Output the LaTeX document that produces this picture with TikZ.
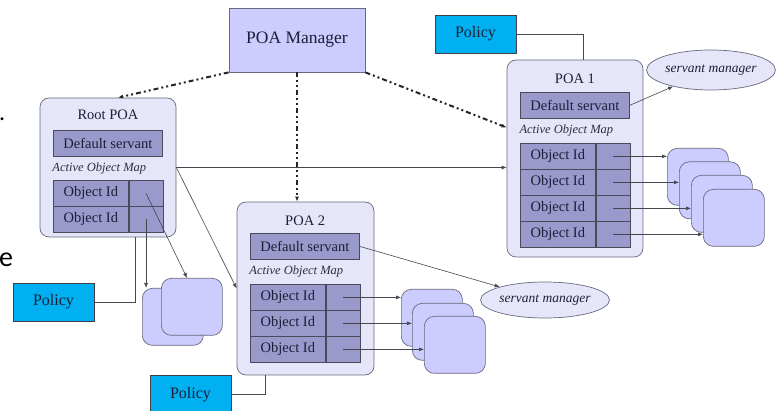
\documentclass[tikz,border=0pt]{standalone}
\usepackage{fontspec}
\setmainfont{Liberation Serif}
\newfontfamily\slidefont{Carlito}
\usetikzlibrary{positioning, calc, arrows.meta, shapes.geometric}

\definecolor{mgrfill}{RGB}{204,204,255}
\definecolor{poafill}{RGB}{230,230,250}
\definecolor{cellfill}{RGB}{153,153,204}
\definecolor{policyfill}{RGB}{0,176,240}
\definecolor{edgegray}{RGB}{105,105,125}
\definecolor{inktext}{RGB}{30,30,55}
\definecolor{wiregray}{RGB}{70,70,80}

\tikzset{
  poa/.style={draw=edgegray, fill=poafill, rounded corners=9pt, line width=0.7pt, inner sep=0pt},
  title/.style={inner sep=0pt, font=\fontsize{14.5}{16}\selectfont},
  dsbox/.style={draw=edgegray!70!black, fill=cellfill, line width=0.7pt, inner sep=0pt,
    minimum width=109pt, minimum height=26pt, anchor=north west},
  aom/.style={inner sep=0pt, font=\fontsize{12.5}{14}\itshape, text=inktext!85!gray},
  idcell/.style={draw=edgegray!70!black, fill=cellfill, line width=0.7pt, inner sep=0pt,
    minimum width=75pt, minimum height=26pt, anchor=north west},
  refcell/.style={draw=edgegray!70!black, fill=cellfill, line width=0.7pt, inner sep=0pt,
    minimum width=34pt, minimum height=26pt, anchor=west},
  objbox/.style={draw=edgegray, fill=mgrfill, rounded corners=10pt, line width=0.7pt,
    minimum width=61pt, minimum height=57pt, anchor=north west},
  sm/.style={ellipse, draw=edgegray, fill=poafill, line width=0.7pt, inner sep=0pt,
    font=\fontsize{13.5}{15}\itshape},
  policy/.style={draw=edgegray!60!black, fill=policyfill, line width=0.7pt, inner sep=0pt,
    minimum width=81pt, minimum height=38pt, font=\fontsize{16}{18}\selectfont},
  mgr/.style={draw=edgegray, fill=mgrfill, line width=0.8pt, inner sep=0pt,
    minimum width=136pt, minimum height=64pt, font=\fontsize{17.5}{19}\selectfont},
  wire/.style={draw=wiregray, line width=0.6pt},
  ctrl/.style={draw=black!85, line width=2pt,
    dash pattern=on 5pt off 3pt on 2pt off 3pt on 2pt off 3pt},
}

\begin{document}
\begin{tikzpicture}[x=1pt, y=-1pt, >={Latex[length=5pt,width=4pt]},
    font=\fontsize{14.5}{16}\selectfont, text=inktext]
  \useasboundingbox (0,0) rectangle (779,411);
  \fill[white] (0,0) rectangle (779,411);
  \clip (0,0) rectangle (779,411);

  % bits of slide text at the left edge
  \node[inner sep=0pt, anchor=west, font=\slidefont\fontsize{24}{26}\selectfont, text=black]
    (dot) at (-1,119) {.};
  \node[inner sep=0pt, anchor=west, font=\slidefont\fontsize{28}{30}\selectfont, text=black]
    (cute) at (-1,260) {e};

  % manager
  \node[mgr] (mgr) at (297,40) {POA Manager};

  % root POA
  \node[poa, minimum width=136pt, minimum height=139pt] (root) at (108,167.5) {};
  \node[dsbox] (rootds) at (53,130) {Default servant};
  \node[title, yshift=-1pt] at ($(root.north)!0.5!(rootds.north)$) {Root POA};
  \foreach \r in {1,2} {
    \node[idcell] (rootid\r) at (53,{180+26*(\r-1)}) {Object Id};
    \node[refcell] (rootref\r) at (rootid\r.east) {};
  }
  \node[aom] at ($(rootds.south)!0.5!(rootid1.north)$) {Active Object Map};

  % POA 1
  \node[poa, minimum width=136pt, minimum height=197pt] (poa1) at (575,158.5) {};
  \node[dsbox] (p1ds) at (520,92) {Default servant};
  \node[title, yshift=-3pt] at ($(poa1.north)!0.5!(p1ds.north)$) {POA 1};
  \foreach \r in {1,...,4} {
    \node[idcell] (p1id\r) at (520,{143+26*(\r-1)}) {Object Id};
    \node[refcell] (p1ref\r) at (p1id\r.east) {};
  }
  \node[aom] at ($(p1ds.south)!0.5!(p1id1.north)$) {Active Object Map};

  % POA 2
  \node[poa, minimum width=137pt, minimum height=173pt] (poa2) at (305.5,288.5) {};
  \node[dsbox] (p2ds) at (250,233) {Default servant};
  \node[title, yshift=-3pt] at ($(poa2.north)!0.5!(p2ds.north)$) {POA 2};
  \foreach \r in {1,...,3} {
    \node[idcell] (p2id\r) at (250,{284+26*(\r-1)}) {Object Id};
    \node[refcell] (p2ref\r) at (p2id\r.east) {};
  }
  \node[aom] at ($(p2ds.south)!0.5!(p2id1.north)$) {Active Object Map};

  % servants
  \node[objbox] (rootobj1) at (142,288) {};
  \node[objbox] (rootobj2) at (161,278) {};
  \foreach \i/\x/\y in {1/667/148, 2/679/161.5, 3/691/175, 4/703/189}
    \node[objbox] (p1obj\i) at (\x,\y) {};
  \foreach \i/\x/\y in {1/401/289, 2/412/303, 3/424/316}
    \node[objbox] (p2obj\i) at (\x,\y) {};

  % servant managers
  \node[sm, minimum width=111pt, minimum height=40pt] (sm1) at (711,70) {servant manager};
  \node[sm, minimum width=116pt, minimum height=36pt] (sm2) at (545,300) {servant manager};

  % policies
  \node[policy] (poltop) at (475.5,34) {Policy};
  \node[policy] (polleft) at (53.5,302) {Policy};
  \node[policy, minimum height=39pt] (polbot) at (190.5,394.5) {Policy};

  % policy links
  \draw[wire] (poltop.east) -| ([xshift=8pt]poa1.north);
  \draw[wire] (polleft.east) -| ([xshift=27pt]root.south);
  \draw[wire] (polbot.east) -| ([xshift=-40pt]poa2.south);

  % manager control
  \draw[ctrl, ->] (mgr.south west) -- ([xshift=10pt]root.north);
  \draw[ctrl, ->] (mgr.south east) -- ([yshift=31pt]poa1.west);
  \draw[ctrl, line width=2.8pt, ->] (mgr.south) -- (mgr.south |- poa2.north);

  % child POAs
  \draw[wire, ->] (root.east) -- (root.east -| poa1.west);
  \draw[wire, ->] (root.east) -- (poa2.west);

  % default servants to managers
  \draw[wire, ->] (p1ds.east) -- (sm1);
  \draw[wire, ->] (p2ds.east) -- (sm2);

  % object map entries
  \draw[wire, ->] (rootref1.center) -- ([xshift=26pt]rootobj2.north west);
  \draw[wire, ->] (rootref2.center) -- (rootref2.center |- rootobj1.north);
  \foreach \i in {1,...,4}
    \draw[wire, ->] (p1ref\i.center) -- (p1ref\i.center -| p1obj\i.west);
  \foreach \i in {1,...,3}
    \draw[wire, ->] (p2ref\i.center) -- (p2ref\i.center -| p2obj\i.west);
\end{tikzpicture}
\end{document}
